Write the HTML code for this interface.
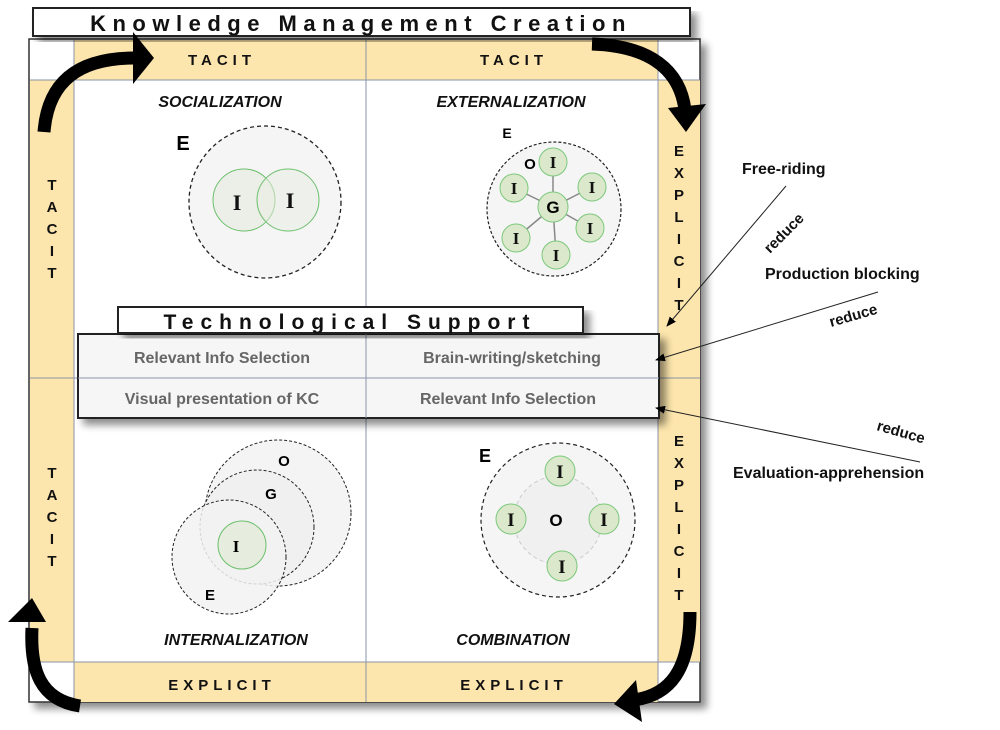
<!DOCTYPE html>
<html><head><meta charset="utf-8"><style>
html,body{margin:0;padding:0;background:#fff;}
svg{display:block;font-family:"Liberation Sans","DejaVu Sans",sans-serif;}
</style></head><body>
<svg width="1000" height="730" viewBox="0 0 1000 730" xmlns="http://www.w3.org/2000/svg">
<defs>
<filter id="sh" x="-10%" y="-10%" width="130%" height="130%"><feGaussianBlur in="SourceAlpha" stdDeviation="4"/><feOffset dx="6" dy="6"/><feComponentTransfer><feFuncA type="linear" slope="0.45"/></feComponentTransfer><feMerge><feMergeNode/><feMergeNode in="SourceGraphic"/></feMerge></filter>
<marker id="ah" markerWidth="10" markerHeight="8" refX="9" refY="4" orient="auto" markerUnits="userSpaceOnUse"><path d="M0,0 L10,4 L0,8 z" fill="#000"/></marker>
</defs>
<!-- frame -->
<rect x="29" y="39" width="671" height="663" fill="#fff" stroke="#333" stroke-width="1.5" filter="url(#sh)"/>
<rect x="74" y="40" width="584" height="40" fill="#fde6ad"/>
<rect x="74" y="662" width="584" height="40" fill="#fde6ad"/>
<rect x="30" y="80" width="44" height="582" fill="#fde6ad"/>
<rect x="658" y="80" width="42" height="582" fill="#fde6ad"/>
<g stroke="#8a94a8" stroke-width="1">
<line x1="366" y1="40" x2="366" y2="702"/>
<line x1="30" y1="378" x2="700" y2="378"/>
<line x1="74" y1="40" x2="74" y2="702"/>
<line x1="658" y1="40" x2="658" y2="702"/>
<line x1="30" y1="80" x2="700" y2="80"/>
<line x1="30" y1="662" x2="700" y2="662"/>
</g>
<!-- title -->
<rect x="33" y="8" width="657" height="28" fill="#fff" stroke="#222" stroke-width="2" filter="url(#sh)"/>
<text x="361" y="31" text-anchor="middle" font-size="22" font-weight="bold" letter-spacing="6.5" fill="#111">Knowledge Management Creation</text>
<!-- band labels -->
<g font-size="15" font-weight="bold" fill="#111" letter-spacing="5" text-anchor="middle">
<text x="222" y="65">TACIT</text><text x="514" y="65">TACIT</text>
<text x="222" y="690">EXPLICIT</text><text x="514" y="690">EXPLICIT</text>
</g>
<g font-size="15" font-weight="bold" fill="#111" text-anchor="middle">
<text x="52" y="190">T</text><text x="52" y="212">A</text><text x="52" y="234">C</text><text x="52" y="256">I</text><text x="52" y="278">T</text>
<text x="52" y="478">T</text><text x="52" y="500">A</text><text x="52" y="522">C</text><text x="52" y="544">I</text><text x="52" y="566">T</text>
<text x="679" y="156">E</text><text x="679" y="178">X</text><text x="679" y="200">P</text><text x="679" y="222">L</text><text x="679" y="244">I</text><text x="679" y="266">C</text><text x="679" y="288">I</text><text x="679" y="310">T</text>
<text x="679" y="446">E</text><text x="679" y="468">X</text><text x="679" y="490">P</text><text x="679" y="512">L</text><text x="679" y="534">I</text><text x="679" y="556">C</text><text x="679" y="578">I</text><text x="679" y="600">T</text>
</g>
<g font-size="16" font-weight="bold" font-style="italic" fill="#111" text-anchor="middle">
<text x="220" y="107">SOCIALIZATION</text><text x="511" y="107">EXTERNALIZATION</text>
<text x="236" y="645">INTERNALIZATION</text><text x="513" y="645">COMBINATION</text>
</g>
<!-- socialization -->
<circle cx="265" cy="202" r="76" fill="#f5f5f5" stroke="#222" stroke-dasharray="4,3" stroke-width="1.3"/>
<circle cx="244" cy="200" r="31" fill="#e8ede2" fill-opacity="0.7" stroke="#6cbf6c"/>
<circle cx="288" cy="200" r="31" fill="#e8ede2" fill-opacity="0.5" stroke="#6cbf6c"/>
<g font-family="Liberation Serif,serif" font-weight="bold" font-size="22" text-anchor="middle" fill="#111">
<text x="237" y="210">I</text><text x="290" y="208">I</text></g>
<text x="183" y="150" font-size="20" font-weight="bold" text-anchor="middle">E</text>
<!-- externalization -->
<circle cx="554" cy="209" r="67" fill="#f5f5f5" stroke="#222" stroke-dasharray="3,2" stroke-width="1.2"/>
<g stroke="#888" stroke-width="1.5">
<line x1="553" y1="207" x2="553" y2="162"/><line x1="553" y1="207" x2="514" y2="188"/><line x1="553" y1="207" x2="592" y2="187"/>
<line x1="553" y1="207" x2="516" y2="238"/><line x1="553" y1="207" x2="590" y2="228"/><line x1="553" y1="207" x2="556" y2="255"/></g>
<g fill="#dce8cc" stroke="#7cc87c">
<circle cx="553" cy="207" r="15"/><circle cx="553" cy="162" r="14"/><circle cx="514" cy="188" r="14"/><circle cx="592" cy="187" r="14"/>
<circle cx="516" cy="238" r="14"/><circle cx="590" cy="228" r="14"/><circle cx="556" cy="255" r="14"/></g>
<g font-family="Liberation Serif,serif" font-weight="bold" font-size="17" text-anchor="middle" fill="#111">
<text x="553" y="168">I</text><text x="514" y="194">I</text><text x="592" y="193">I</text><text x="516" y="244">I</text><text x="590" y="234">I</text><text x="556" y="261">I</text></g>
<text x="553" y="213" font-size="17" font-weight="bold" text-anchor="middle">G</text>
<text x="530" y="169" font-size="15" font-weight="bold" text-anchor="middle">O</text>
<text x="507" y="138" font-size="14" font-weight="bold" text-anchor="middle">E</text>
<!-- internalization -->
<circle cx="278" cy="513" r="73" fill="#f4f4f4" stroke="#222" stroke-dasharray="3,2"/>
<circle cx="257" cy="527" r="57" fill="#f0f0f0" stroke="#222" stroke-dasharray="3,2"/>
<circle cx="229" cy="557" r="57" fill="#f2f2f2" fill-opacity="0.85" stroke="#222" stroke-dasharray="3,2"/>
<circle cx="242" cy="545" r="24" fill="#e6ecde" stroke="#6cbf6c"/>
<text x="236" y="552" font-family="Liberation Serif,serif" font-weight="bold" font-size="17" text-anchor="middle">I</text>
<g font-size="15" font-weight="bold" text-anchor="middle"><text x="284" y="466">O</text><text x="271" y="499">G</text><text x="210" y="600">E</text></g>
<!-- combination -->
<circle cx="558" cy="520" r="77" fill="#f5f5f5" stroke="#222" stroke-dasharray="4,3" stroke-width="1.2"/>
<circle cx="558" cy="520" r="44" fill="#f0f0f0" stroke="#ccc" stroke-dasharray="4,3"/>
<g fill="#dce8cc" stroke="#7cc87c"><circle cx="560" cy="471" r="15"/><circle cx="511" cy="519" r="15"/><circle cx="604" cy="519" r="15"/><circle cx="562" cy="566" r="15"/></g>
<g font-family="Liberation Serif,serif" font-weight="bold" font-size="19" text-anchor="middle" fill="#111">
<text x="560" y="478">I</text><text x="511" y="526">I</text><text x="604" y="526">I</text><text x="562" y="573">I</text></g>
<text x="556" y="526" font-size="17" font-weight="bold" text-anchor="middle">O</text>
<text x="485" y="462" font-size="18" font-weight="bold" text-anchor="middle">E</text>
<!-- tech support -->
<rect x="78" y="334" width="581" height="84" fill="#f6f6f6" stroke="#222" stroke-width="2" filter="url(#sh)"/>
<line x1="78" y1="378" x2="659" y2="378" stroke="#8a94a8"/>
<line x1="366" y1="334" x2="366" y2="418" stroke="#8a94a8"/>
<rect x="118" y="307" width="465" height="26" fill="#fff" stroke="#222" stroke-width="2" filter="url(#sh)"/>
<text x="350" y="329" text-anchor="middle" font-size="21" font-weight="bold" letter-spacing="7" fill="#111">Technological Support</text>
<g font-size="16" font-weight="bold" fill="#666" text-anchor="middle">
<text x="222" y="363">Relevant Info Selection</text><text x="512" y="363">Brain-writing/sketching</text>
<text x="222" y="404">Visual presentation of KC</text><text x="508" y="404">Relevant Info Selection</text></g>
<!-- right labels -->
<g font-size="16" font-weight="bold" fill="#111">
<text x="742" y="174">Free-riding</text><text x="765" y="279">Production blocking</text><text x="733" y="478">Evaluation-apprehension</text></g>
<g font-size="15" font-weight="bold" fill="#111">
<text transform="translate(770,254) rotate(-45)">reduce</text>
<text transform="translate(831,327) rotate(-16)">reduce</text>
<text transform="translate(876,430) rotate(16)">reduce</text></g>
<g stroke="#222" stroke-width="1" marker-end="url(#ah)">
<line x1="786" y1="186" x2="667" y2="326"/><line x1="878" y1="292" x2="656" y2="360"/><line x1="920" y1="462" x2="656" y2="408"/></g>
<!-- big arrows -->
<g fill="none" stroke="#000" stroke-width="13">
<path d="M44,132 C48,80 80,58 135,58"/>
<path d="M592,44 C650,46 680,70 685,110"/>
<path d="M690,612 C690,670 670,695 634,700"/>
<path d="M80,706 C40,700 30,670 32,628"/>
</g>
<g fill="#000">
<path d="M133,32 L154,58 L133,84 z"/>
<path d="M668,108 L706,104 L686,132 z"/>
<path d="M636,680 L614,704 L642,722 z"/>
<path d="M8,622 L32,598 L46,622 z"/>
</g>
</svg>
</body></html>
